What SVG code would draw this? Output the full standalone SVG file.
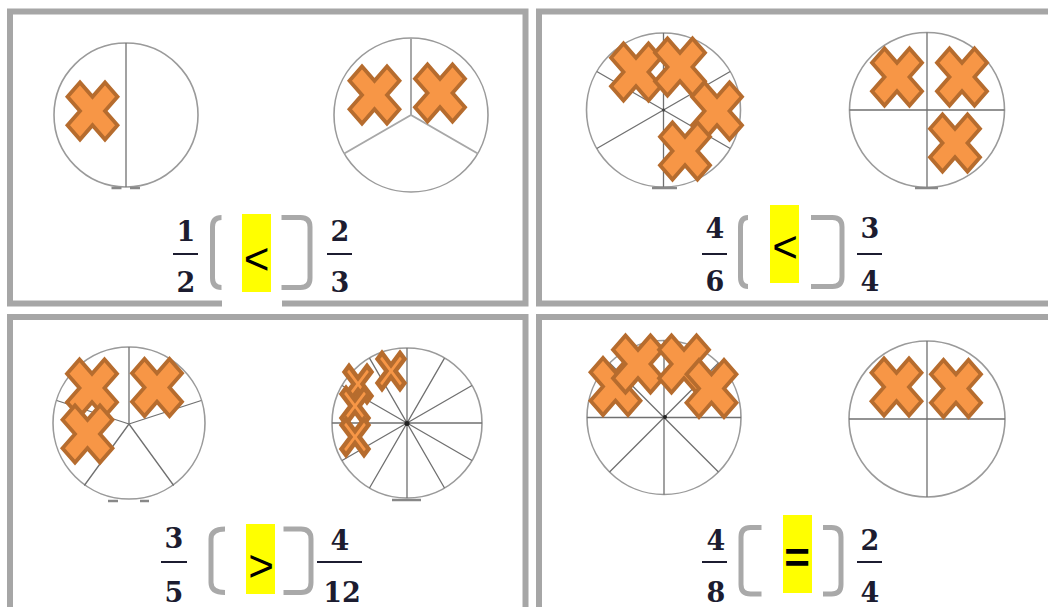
<svg xmlns="http://www.w3.org/2000/svg" xmlns:xlink="http://www.w3.org/1999/xlink" width="1048" height="607" viewBox="0 0 1048 607">
<style>
.panel{fill:none;stroke:#a6a6a6;stroke-width:6}
.circ{fill:none;stroke:#9a9a9a;stroke-width:1.6}
.spoke{stroke:#707070;stroke-width:1.3;fill:none}
.spokel{stroke:#a8a8a8;stroke-width:2;fill:none}
.mark{stroke:#888;stroke-width:2.5}
.x{fill:#f79646;stroke:#b66c2e;stroke-width:3.8;stroke-linejoin:miter}
.xs{fill:#f79646;stroke:#b66c2e;stroke-width:4.4;stroke-linejoin:miter}
.brk{fill:none;stroke:#a9a9a9;stroke-width:5}
.yel{fill:#ffff00}
.num{font-family:"DejaVu Serif","Liberation Serif",serif;font-size:27px;font-weight:bold;fill:#1c1c30;text-anchor:middle}
.bar{stroke:#1c1c30;stroke-width:2}
.sym{font-family:"Liberation Sans",Arial,sans-serif;font-size:44px;fill:#000;text-anchor:middle;dominant-baseline:central}
</style>
<defs>
<path id="X" d="M-25,-14.25 L-12.5,-28.5 L0,-14.25 L12.5,-28.5 L25,-14.25 L12.5,0 L25,14.25 L12.5,28.5 L0,14.25 L-12.5,28.5 L-25,14.25 L-12.5,0 Z"/>
<path id="XS" d="M-13.5,-12 L-9,-18 L0,-6 L9,-18 L13.5,-12 L4.5,0 L13.5,12 L9,18 L0,6 L-9,18 L-13.5,12 L-4.5,0 Z"/>
</defs>
<rect width="1048" height="607" fill="#fff"/>

<g id="panel1">
<rect class="panel" x="10" y="11.5" width="515.5" height="292"/>
<circle class="circ" cx="126" cy="115" r="72"/>
<line class="spoke" x1="126" y1="43" x2="126" y2="187"/>
<line class="mark" x1="111.5" y1="188" x2="121.5" y2="188"/>
<line class="mark" x1="130" y1="188" x2="140" y2="188"/>
<use href="#X" class="x" x="92.5" y="111"/>
<circle class="circ" cx="411" cy="115" r="77"/>
<path class="spokel" d="M411,38 L411,115 L477.7,153.5 M411,115 L344.3,153.5"/>
<use href="#X" class="x" x="374.5" y="95"/>
<use href="#X" class="x" x="440" y="93"/>
<rect x="222" y="292" width="60" height="17" fill="#fff"/>
<path class="brk" d="M221.5,217.5 Q212.5,217.5 212.5,227 V278 Q212.5,287.5 221.5,287.5"/>
<path class="brk" d="M281.5,217.5 H300.5 Q310,217.5 310,227 V278 Q310,287.5 300.5,287.5 H281.5"/>
<rect class="yel" x="242" y="214" width="29" height="78"/>
<text class="sym" x="256.5" y="258">&lt;</text>
<text class="num" x="186" y="241">1</text>
<line class="bar" x1="173" y1="254" x2="198" y2="254"/>
<text class="num" x="186" y="292">2</text>
<text class="num" x="340" y="241">2</text>
<line class="bar" x1="327" y1="254" x2="352" y2="254"/>
<text class="num" x="340" y="292">3</text>
</g>

<g id="panel2">
<rect class="panel" x="539" y="11.5" width="520" height="292"/>
<circle class="circ" cx="663.5" cy="110" r="77"/>
<path class="spoke" d="M663.5,33 V187 M596.8,71.5 L730.2,148.5 M596.8,148.5 L730.2,71.5"/>
<circle cx="663.5" cy="110" r="1.6" fill="#444"/>
<line class="mark" x1="652" y1="188" x2="677" y2="188"/>
<use href="#X" class="x" x="636" y="72"/>
<use href="#X" class="x" x="680" y="67"/>
<use href="#X" class="x" x="717" y="111"/>
<use href="#X" class="x" x="685" y="151"/>
<circle class="circ" cx="927" cy="110" r="77.5"/>
<path class="spoke" d="M927,32.5 V187.5 M849.5,110 H1004.5"/>
<line class="mark" x1="915" y1="188" x2="938" y2="188"/>
<use href="#X" class="x" x="897" y="77"/>
<use href="#X" class="x" x="962" y="77"/>
<use href="#X" class="x" x="955" y="143"/>
<path class="brk" d="M748,217.5 Q740.5,217.5 740.5,227 V277 Q740.5,286.5 748,286.5"/>
<path class="brk" d="M811,217.5 H832.5 Q842,217.5 842,227 V277 Q842,286.5 832.5,286.5 H811"/>
<rect class="yel" x="770" y="205" width="29" height="78"/>
<text class="sym" x="785" y="246.5">&lt;</text>
<text class="num" x="715" y="238">4</text>
<line class="bar" x1="702" y1="254" x2="727" y2="254"/>
<text class="num" x="715" y="291">6</text>
<text class="num" x="870" y="238">3</text>
<line class="bar" x1="857" y1="254" x2="882" y2="254"/>
<text class="num" x="870" y="291">4</text>
</g>

<g id="panel3">
<rect class="panel" x="10" y="317" width="515.5" height="300"/>
<circle class="circ" cx="129" cy="423" r="76"/>
<path class="spoke" d="M129,424 L129,347 M129,424 L201.3,400.5 M129,424 L173.7,485.5 M129,424 L84.3,485.5 M129,424 L56.7,400.5"/>
<line class="mark" x1="108" y1="501" x2="118" y2="501"/>
<line class="mark" x1="140" y1="501" x2="149" y2="501"/>
<use href="#X" class="x" x="92" y="388"/>
<use href="#X" class="x" x="157" y="387.5"/>
<use href="#X" class="x" x="87.5" y="434"/>
<circle class="circ" cx="407" cy="423" r="75"/>
<path class="spoke" d="M332,423 H482 M342.05,385.5 L471.95,460.5 M369.5,358.05 L444.5,487.95 M407,348 V498 M444.5,358.05 L369.5,487.95 M471.95,385.5 L342.05,460.5"/>
<circle cx="407" cy="423.5" r="2.5" fill="#222"/>
<line class="mark" x1="392" y1="500" x2="421" y2="500"/>
<use href="#XS" class="xs" x="358" y="384"/>
<use href="#XS" class="xs" x="391" y="371"/>
<use href="#XS" class="xs" x="355" y="406"/>
<use href="#XS" class="xs" x="355" y="437"/>
<path class="brk" d="M225,529 Q211,529 211,539 V582.5 Q211,592.5 225,592.5"/>
<path class="brk" d="M283.5,529 H301 Q311,529 311,539 V582.5 Q311,592.5 301,592.5 H283.5"/>
<rect class="yel" x="246" y="524" width="29" height="70"/>
<text class="sym" x="261" y="565">&gt;</text>
<text class="num" x="174" y="548">3</text>
<line class="bar" x1="161" y1="562" x2="187" y2="562"/>
<text class="num" x="174" y="601.5">5</text>
<text class="num" x="340" y="550">4</text>
<line class="bar" x1="317" y1="562" x2="362" y2="562"/>
<text class="num" x="342" y="601.5">12</text>
</g>

<g id="panel4">
<rect class="panel" x="539" y="317" width="520" height="300"/>
<circle class="circ" cx="664" cy="417.5" r="77"/>
<path class="spoke" d="M587,417.5 H741 M664,340.5 V494.5 M609.55,363.05 L718.45,471.95 M718.45,363.05 L609.55,471.95"/>
<circle cx="665" cy="417" r="2" fill="#222"/>
<use href="#X" class="x" x="615.5" y="386.5"/>
<use href="#X" class="x" x="638" y="364"/>
<use href="#X" class="x" x="684" y="364"/>
<use href="#X" class="x" x="711.5" y="388.5"/>
<circle class="circ" cx="927" cy="419" r="78"/>
<path class="spoke" d="M927,341 V497 M849,419 H1005"/>
<use href="#X" class="x" x="896.5" y="387"/>
<use href="#X" class="x" x="956" y="388.5"/>
<path class="brk" d="M761.5,527.5 H750.5 Q741,527.5 741,537 V584.5 Q741,594 750.5,594 H761.5"/>
<path class="brk" d="M823,527.5 H831.5 Q841,527.5 841,537 V584.5 Q841,594 831.5,594 H823"/>
<rect class="yel" x="783" y="515" width="29" height="78"/>
<text class="sym" x="797" y="557" font-weight="bold">=</text>
<text class="num" x="716" y="550">4</text>
<line class="bar" x1="702" y1="562" x2="727" y2="562"/>
<text class="num" x="716" y="601.5">8</text>
<text class="num" x="870" y="550">2</text>
<line class="bar" x1="857" y1="562" x2="882" y2="562"/>
<text class="num" x="870" y="601.5">4</text>
</g>
</svg>
